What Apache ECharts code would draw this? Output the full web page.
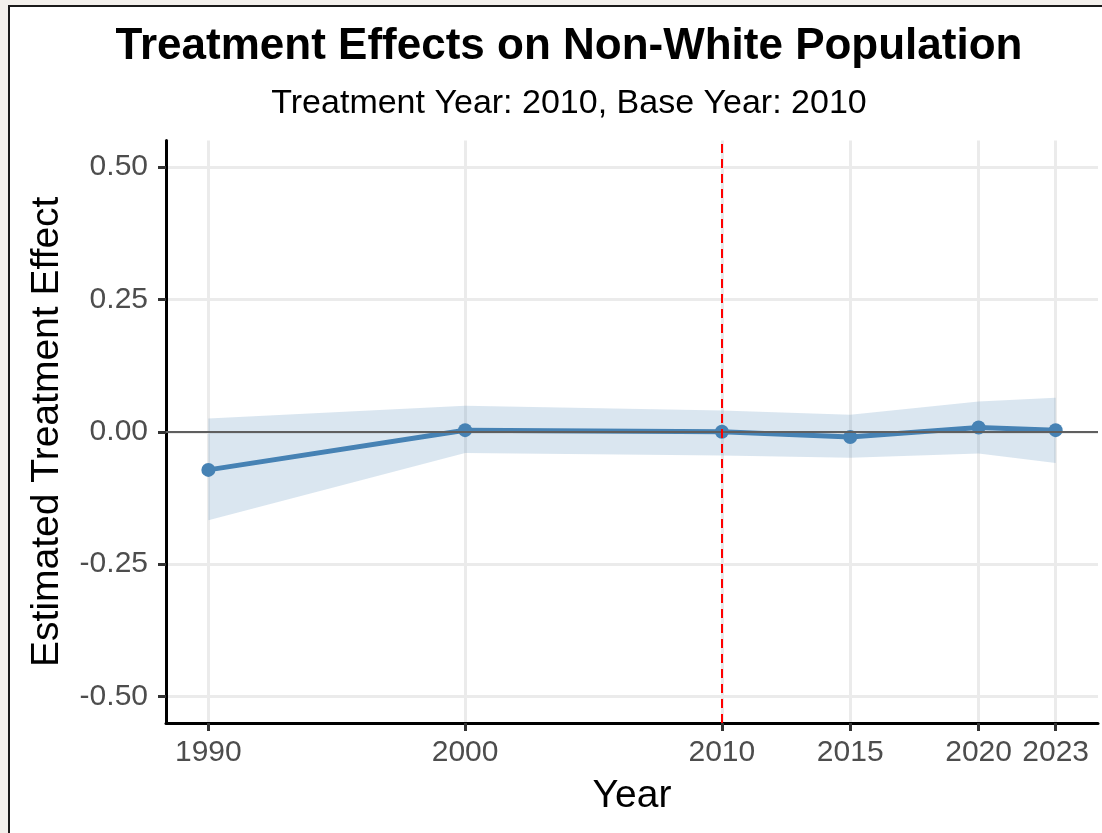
<!DOCTYPE html>
<html><head><meta charset="utf-8">
<script src="https://cdn.jsdelivr.net/npm/echarts@6/dist/echarts.min.js"></script>
<style>
html,body{margin:0;padding:0;background:#f3f0ec;overflow:hidden;}
#frame{position:absolute;left:8px;top:5px;width:1200px;height:1000px;background:#fff;border:2px solid #1a1a1a;}
#c{position:absolute;left:0;top:0;width:1102px;height:833px;}
</style>
</head><body><div id="frame"></div><div id="c"></div>
<script>
const years = [1990, 2000, 2010, 2015, 2020, 2023];
const estimate = [-0.072, 0.003, 0.000, -0.010, 0.008, 0.003];
const ciLower = [-0.167, -0.040, -0.045, -0.049, -0.041, -0.059];
const ciUpper = [0.025, 0.049, 0.040, 0.032, 0.057, 0.064];
const xTicks = [1990, 2000, 2010, 2015, 2020, 2023];
const yTicks = [-0.5, -0.25, 0, 0.25, 0.5];
const treatmentYear = 2010;
const titleText = 'Treatment Effects on Non-White Population';
const subtitleText = 'Treatment Year: 2010, Base Year: 2010';

const chart = echarts.init(document.getElementById('c'), null, {renderer: 'canvas'});
const FONT = '"Liberation Sans", Arial, Helvetica, sans-serif';

const option = {
  backgroundColor: 'transparent',
  animation: false,
  title: [
    {text: titleText, left: 564, top: 20, textAlign: 'center',
     textStyle: {fontFamily: FONT, fontWeight: 'bold', fontSize: 44, color: '#000'}},
    {text: subtitleText, left: 564, top: 82, textAlign: 'center',
     textStyle: {fontFamily: FONT, fontWeight: 'normal', fontSize: 34, color: '#000'}}
  ],
  grid: {left: 166, right: 4, top: 140.5, bottom: 110, containLabel: false},
  xAxis: {
    type: 'value', min: 1988.35, max: 2024.65,
    name: 'Year', nameLocation: 'middle', nameGap: 54,
    nameTextStyle: {fontFamily: FONT, fontSize: 39, color: '#000'},
    axisLine: {show: true, onZero: false, lineStyle: {color: '#000', width: 3}},
    axisTick: {show: true, length: 8, customValues: xTicks, lineStyle: {color: '#333', width: 3}},
    axisLabel: {customValues: xTicks, margin: 15, fontFamily: FONT, fontSize: 30, color: '#4d4d4d',
                formatter: v => String(v)},
    splitLine: {show: true, lineStyle: {color: '#ebebeb', width: 3}}
  },
  yAxis: {
    type: 'value', min: -0.55, max: 0.55,
    name: 'Estimated Treatment Effect', nameLocation: 'middle', nameGap: 99, nameRotate: 90,
    nameTextStyle: {fontFamily: FONT, fontSize: 39, color: '#000'},
    axisLine: {show: true, onZero: false, lineStyle: {color: '#000', width: 3}},
    axisTick: {show: true, length: 8, customValues: yTicks, lineStyle: {color: '#333', width: 3}},
    axisLabel: {customValues: yTicks, margin: 18, fontFamily: FONT, fontSize: 30, color: '#4d4d4d',
                formatter: v => v.toFixed(2)},
    splitLine: {show: true, lineStyle: {color: '#ebebeb', width: 3}}
  },
  series: [
    {
      name: 'ci', type: 'custom', z: 2, silent: true,
      data: years.map((y, i) => [y, ciLower[i], ciUpper[i]]),
      encode: {x: 0, y: [1, 2]},
      renderItem: function (params, api) {
        if (params.dataIndex !== 0) return null;
        const pts = [];
        for (let j = 0; j < years.length; j++) pts.push(api.coord([years[j], ciUpper[j]]));
        for (let j = years.length - 1; j >= 0; j--) pts.push(api.coord([years[j], ciLower[j]]));
        return {type: 'polygon', shape: {points: pts},
                style: {fill: 'rgba(70,130,180,0.2)', stroke: null}};
      }
    },
    {
      name: 'refs', type: 'line', data: [], z: 3, silent: true,
      markLine: {
        symbol: 'none', silent: true, label: {show: false},
        data: [
          {yAxis: 0, lineStyle: {color: '#5f5f5f', width: 2, type: 'solid'}},
          {xAxis: treatmentYear, lineStyle: {color: '#ff0000', width: 2, type: [9, 6]}}
        ]
      }
    },
    {
      name: 'estimate', type: 'line', z: 4,
      data: years.map((y, i) => [y, estimate[i]]),
      symbol: 'circle', symbolSize: 14, showSymbol: true,
      itemStyle: {color: '#4682b4'},
      lineStyle: {color: '#4682b4', width: 5}
    }
  ]
};
chart.setOption(option);
</script>
</body></html>
